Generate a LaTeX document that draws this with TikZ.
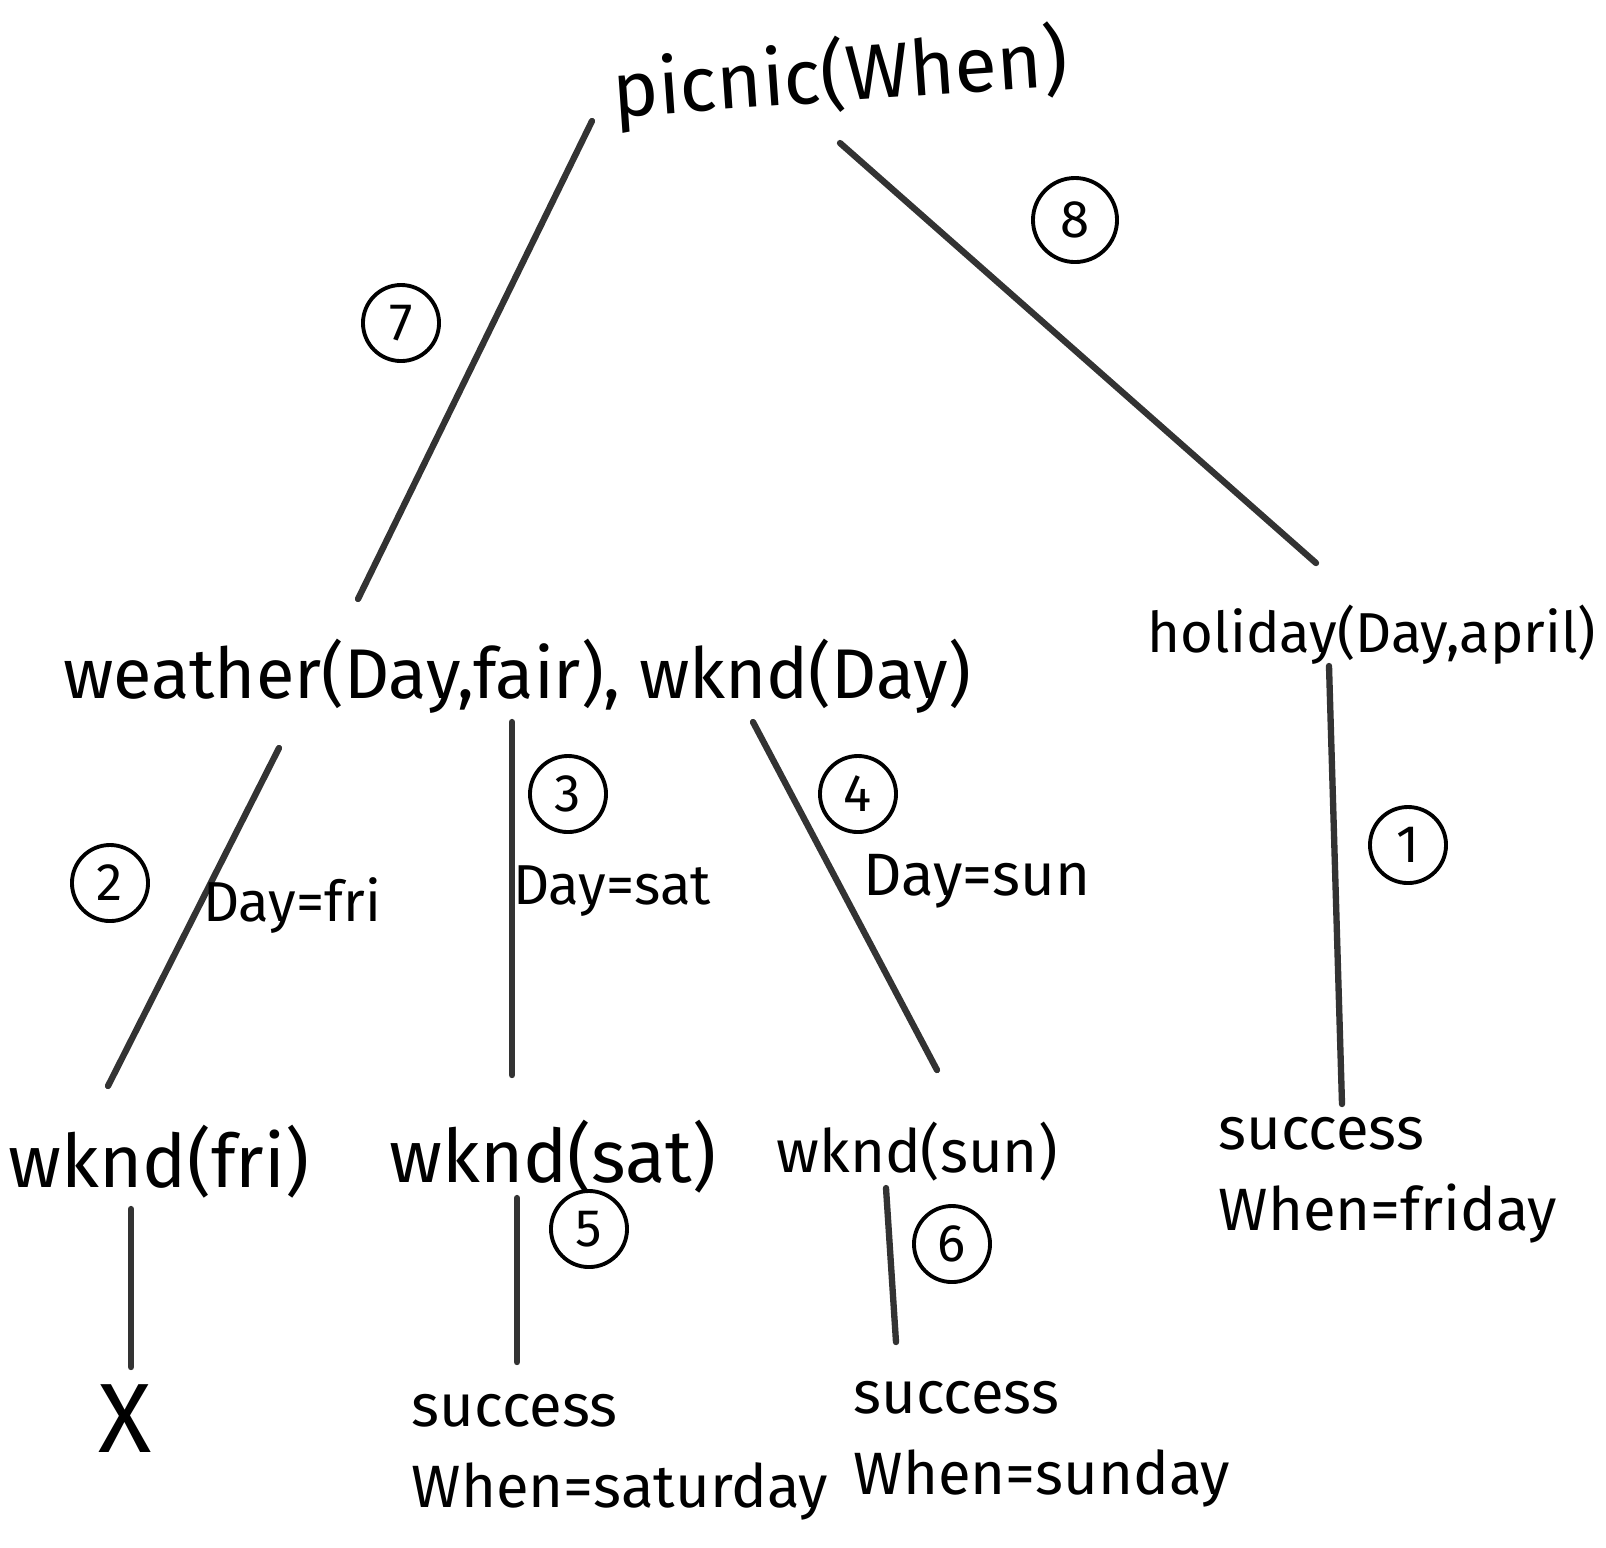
\documentclass[tikz,border=0pt]{standalone}
\usepackage{fontspec}
\setmainfont{Fira Sans}
\tikzset{
  goal/.style={font=\fontsize{20}{24}\selectfont, inner sep=0pt},
  result/.style={align=left, inner sep=0pt, font=\fontsize{17}{23}\selectfont},
  branch/.style={line width=1.8pt, black!80, line cap=round},
  stepno/.style={circle, draw, line width=1.1pt, minimum size=0.76cm, inner sep=0pt, font=\fontsize{15}{18}\selectfont},
  bind/.style={font=\fontsize{16}{19}\selectfont, inner sep=0pt},
}
\begin{document}
\begin{tikzpicture}[x=0.01cm, y=-0.01cm]
  \useasboundingbox (0,0) rectangle (1606,1547);
  % goals
  \node[goal, rotate=4, font=\fontsize{22}{26}\selectfont] (picnic) at (840,77) {picnic(When)};
  \node[goal] (weather) at (517,676) {weather(Day,fair), wknd(Day)};
  \node[goal, font=\fontsize{16}{20}\selectfont] (holiday) at (1372,635) {holiday(Day,april)};
  \node[goal, font=\fontsize{21}{24}\selectfont] (wfri) at (159,1162) {wknd(fri)};
  \node[goal, font=\fontsize{21}{24}\selectfont] (wsat) at (553,1157) {wknd(sat)};
  \node[goal, font=\fontsize{17}{20}\selectfont] (wsun) at (917,1152) {wknd(sun)};
  \node[result] (okfri) at (1388,1180) {success\\When=friday};
  \node[goal, font=\fontsize{28}{30}\selectfont] (fail) at (125,1419) {X};
  \node[result] (oksat) at (620,1457) {success\\When=saturday};
  \node[result] (oksun) at (1042,1444) {success\\When=sunday};

  % branches
  \draw[branch] ([shift={(-248,44)}]picnic.center) -- ([shift={(-159,-77)}]weather.center);
  \draw[branch] ([shift={(0,66)}]picnic.center) -- ([shift={(-56,-72)}]holiday.center);
  \draw[branch] ([shift={(-43,31)}]holiday.center) -- ([shift={(-46,-76)}]okfri.center);
  \draw[branch] ([shift={(-238,72)}]weather.center) -- ([shift={(-51,-76)}]wfri.center);
  \draw[branch] ([shift={(-5,46)}]weather.center) -- ([shift={(-41,-82)}]wsat.center);
  \draw[branch] ([shift={(236,46)}]weather.center) -- ([shift={(20,-82)}]wsun.center);
  \draw[branch] ([shift={(-28,47)}]wfri.center) -- ([shift={(6,-52)}]fail.center);
  \draw[branch] ([shift={(-36,41)}]wsat.center) -- ([shift={(-103,-95)}]oksat.center);
  \draw[branch] ([shift={(-31,36)}]wsun.center) -- ([shift={(-146,-102)}]oksun.center);

  % order of steps
  \node[stepno] (s1) at (1408,845) {1};
  \node[stepno] (s2) at (110,883) {2};
  \node[stepno] (s3) at (568,794) {3};
  \node[stepno] (s4) at (858,794) {4};
  \node[stepno] (s5) at (589,1229) {5};
  \node[stepno] (s6) at (952,1244) {6};
  \node[stepno] (s7) at (401,323) {7};
  \node[stepno, minimum size=0.84cm] (s8) at (1075,220) {8};

  % bindings
  \node[bind] (dfri) at (292,906) {Day=fri};
  \node[bind] (dsat) at (612,891) {Day=sat};
  \node[bind, font=\fontsize{17}{20}\selectfont] (dsun) at (977,881) {Day=sun};
\end{tikzpicture}
\end{document}
